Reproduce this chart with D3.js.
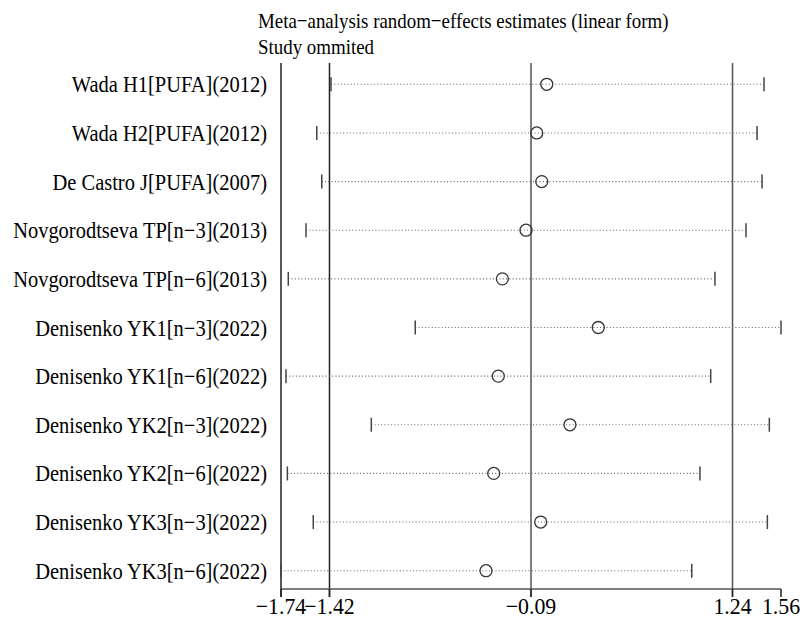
<!DOCTYPE html>
<html>
<head>
<meta charset="utf-8">
<script src="https://cdn.jsdelivr.net/npm/d3@7"></script>
<style>
  body { margin: 0; background: #fff; }
  text { font-family: "Liberation Serif", "Times New Roman", serif; fill: #000; }
</style>
</head>
<body>
<script>
// studies omitted one at a time
const studies = [
  "Wada H1[PUFA](2012)",
  "Wada H2[PUFA](2012)",
  "De Castro J[PUFA](2007)",
  "Novgorodtseva TP[n\u22123](2013)",
  "Novgorodtseva TP[n\u22126](2013)",
  "Denisenko YK1[n\u22123](2022)",
  "Denisenko YK1[n\u22126](2022)",
  "Denisenko YK2[n\u22123](2022)",
  "Denisenko YK2[n\u22126](2022)",
  "Denisenko YK3[n\u22123](2022)",
  "Denisenko YK3[n\u22126](2022)"
];
const estimate = [0.014, -0.052, -0.019, -0.123, -0.279, 0.354, -0.306, 0.167, -0.336, -0.026, -0.387];
const lower    = [-1.410, -1.504, -1.471, -1.575, -1.692, -0.854, -1.707, -1.144, -1.698, -1.527, -1.74];
const upper    = [1.448, 1.402, 1.435, 1.329, 1.124, 1.56, 1.096, 1.483, 1.025, 1.470, 0.971];

// overall estimate with its CI, and axis ticks
const overall = [-1.42, -0.09, 1.24];
const ticks = [-1.74, -1.42, -0.09, 1.24, 1.56];
const titleLines = ["Meta\u2212analysis random\u2212effects estimates (linear form)", "Study ommited"];

const width = 809, height = 623;

const svg = d3.select("body").append("svg")
  .attr("width", width)
  .attr("height", height);

const x = d3.scaleLinear().domain([-1.74, 1.56]).range([281, 781]);
const y = d3.scalePoint().domain(studies).range([84.3, 570.7]);
const plotTop = 63, axisY = 589;

// text looks horizontally squeezed, so scale it in x
function label(txt, px, py, anchor, size, sx) {
  svg.append("text")
    .attr("transform", `translate(${px},${py}) scale(${sx},1)`)
    .attr("text-anchor", anchor)
    .attr("font-size", size)
    .text(txt);
}

// title
titleLines.forEach((t, i) => label(t, 258, 28 + i * 26, "start", 22, 0.86));

// left frame
svg.append("line")
  .attr("x1", x(-1.74)).attr("x2", x(-1.74))
  .attr("y1", plotTop).attr("y2", axisY + 8)
  .attr("stroke", "#222").attr("stroke-width", 1.5);

// vertical lines for the overall estimate and CI
svg.selectAll(".ref").data(overall).enter().append("line")
  .attr("x1", d => x(d)).attr("x2", d => x(d))
  .attr("y1", plotTop).attr("y2", axisY + 8)
  .attr("stroke", (d, i) => i == 0 ? "#222" : "#555")
  .attr("stroke-width", 1.5);

// axis
svg.append("line")
  .attr("x1", x(-1.74)).attr("x2", x(1.56))
  .attr("y1", axisY).attr("y2", axisY)
  .attr("stroke", "#555").attr("stroke-width", 1.5);
svg.selectAll(".tk").data(ticks).enter().append("line")
  .attr("x1", d => x(d)).attr("x2", d => x(d))
  .attr("y1", axisY).attr("y2", axisY + 8)
  .attr("stroke", "#222").attr("stroke-width", 1.5);
ticks.forEach(t => label(d3.format(".2f")(t).replace("-", "\u2212"), x(t), 614, "middle", 23, 0.95));

// rows
studies.forEach((s, i) => {
  const yy = y(s);
  label(s, 267, yy + 8, "end", 23, 0.89);
  svg.append("line")
    .attr("x1", x(lower[i])).attr("x2", x(upper[i]))
    .attr("y1", yy).attr("y2", yy)
    .attr("stroke", "#666").attr("stroke-width", 1.1)
    .attr("stroke-dasharray", "1,2.3");
  [lower[i], upper[i]].forEach(v => {
    svg.append("line")
      .attr("x1", x(v)).attr("x2", x(v))
      .attr("y1", yy - 7).attr("y2", yy + 7)
      .attr("stroke", "#444").attr("stroke-width", 1.5);
  });
  svg.append("circle")
    .attr("cx", x(estimate[i])).attr("cy", yy).attr("r", 6)
    .attr("fill", "none").attr("stroke", "#333").attr("stroke-width", 1.3);
});
</script>
</body>
</html>
